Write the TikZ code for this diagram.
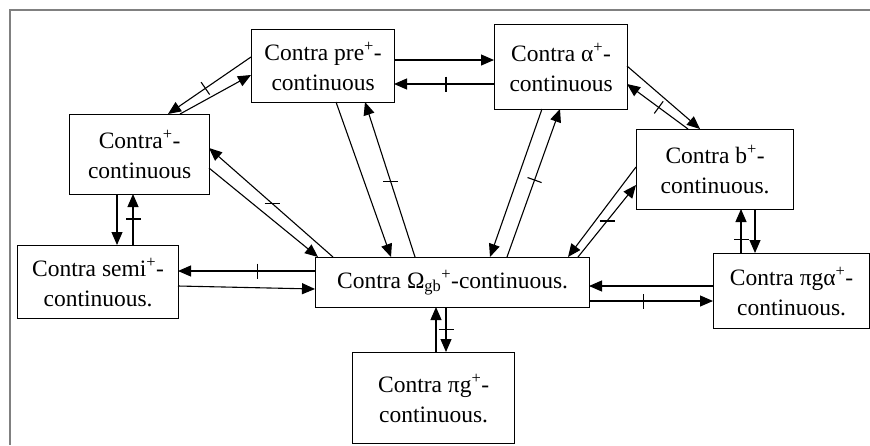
\documentclass[tikz,border=0pt]{standalone}
\usepackage{fontspec}
\setmainfont{Liberation Serif}
\usetikzlibrary{arrows.meta,calc,decorations.markings}
\begin{document}
\begin{tikzpicture}[x=1pt,y=-1pt,
  box/.style={draw,line width=1.2pt,anchor=north west,inner sep=0pt,align=center,
    font=\fontsize{23.5}{30}\selectfont},
  con/.style={line width=1.1pt,-{Triangle[length=13pt,width=11pt]}},
  tkp/.style={postaction={decorate,decoration={markings,
    mark=at position #1 with {\draw[line width=1.1pt,arrows=-] (0,-7.5pt)--(0,7.5pt);}}}},
  tkh/.style={postaction={decorate,decoration={markings,
    mark=at position #1 with {\pgftransformresetnontranslations\draw[line width=1.1pt,arrows=-] (-7.5pt,0)--(7.5pt,0);}}}}]
\useasboundingbox (0,0) rectangle (870,445);
\draw[gray,line width=1.5pt] (870,10) -- (10,10) -- (10,445);
% boxes
\node[box,minimum width=143pt,minimum height=73pt] (pre) at (251,29) {Contra pre\textsuperscript{+}-\\continuous};
\node[box,minimum width=133pt,minimum height=85pt] (alp) at (494,24) {Contra α\textsuperscript{+}-\\continuous};
\node[box,minimum width=140pt,minimum height=80pt] (cp) at (69,114) {Contra\textsuperscript{+}-\\continuous};
\node[box,minimum width=157pt,minimum height=80pt] (b) at (636,129) {Contra b\textsuperscript{+}-\\continuous.};
\node[box,minimum width=161pt,minimum height=73pt] (semi) at (17,245) {Contra semi\textsuperscript{+}-\\continuous.};
\node[box,minimum width=274pt,minimum height=50pt] (om) at (315,257) {Contra Ω\textsubscript{gb}\textsuperscript{+}-continuous.};
\node[box,minimum width=162pt,minimum height=91pt] (pg) at (352,352) {Contra πg\textsuperscript{+}-\\continuous.};
\node[box,minimum width=156pt,minimum height=75pt] (pga) at (713,253) {Contra πgα\textsuperscript{+}-\\continuous.};
% connectors
\draw[con,tkp=0.55] ($(pre.north west)+(0,28)$) -- ($(cp.north west)+(99,0)$);
\draw[con] ($(cp.north west)+(111,0)$) -- ($(pre.north west)+(0,46)$);
\draw[con] ($(pre.north west)+(143,31)$) -- ($(alp.north west)+(0,36)$);
\draw[con,tkp=0.48] ($(alp.north west)+(0,60)$) -- ($(pre.north west)+(143,55)$);
\draw[con] ($(pre.north west)+(85,73)$) -- ($(om.north west)+(76,0)$);
\draw[con,tkh=0.49] ($(om.north west)+(100,0)$) -- ($(pre.north west)+(114,73)$);
\draw[con] ($(alp.north west)+(48,85)$) -- ($(om.north west)+(175,0)$);
\draw[con,tkp=0.52] ($(om.north west)+(192,0)$) -- ($(alp.north west)+(66,85)$);
\draw[con] ($(alp.north west)+(133,42)$) -- ($(b.north west)+(64,0)$);
\draw[con,tkp=0.48] ($(b.north west)+(52,0)$) -- ($(alp.north west)+(133,60)$);
\draw[con] ($(b.north west)+(0,38)$) -- ($(om.north west)+(253,0)$);
\draw[con,tkh=0.5] ($(om.north west)+(263,0)$) -- ($(b.north west)+(0,56)$);
\draw[con,tkp=0.3] ($(pga.north west)+(28,0)$) -- ($(b.north west)+(105,80)$);
\draw[con] ($(b.north west)+(119,80)$) -- ($(pga.north west)+(42,0)$);
\draw[con] ($(pga.north west)+(0,33)$) -- ($(om.north west)+(274,29)$);
\draw[con,tkp=0.44] ($(om.north west)+(274,44)$) -- ($(pga.north west)+(0,48)$);
\draw[con] ($(pg.north west)+(84,0)$) -- ($(om.north west)+(121,50)$);
\draw[con,tkp=0.49] ($(om.north west)+(131,50)$) -- ($(pg.north west)+(94,0)$);
\draw[con] ($(cp.north west)+(48,80)$) -- ($(semi.north west)+(100,0)$);
\draw[con,tkp=0.51] ($(semi.north west)+(116,0)$) -- ($(cp.north west)+(64,80)$);
\draw[con,tkp=0.42] ($(om.north west)+(0,14)$) -- ($(semi.north west)+(161,26)$);
\draw[con] ($(semi.north west)+(161,41)$) -- ($(om.north west)+(0,32)$);
\draw[con,tkh=0.49] ($(om.north west)+(18,0)$) -- ($(cp.north west)+(140,34)$);
\draw[con] ($(cp.north west)+(140,54)$) -- ($(om.north west)+(3,0)$);
\end{tikzpicture}
\end{document}
